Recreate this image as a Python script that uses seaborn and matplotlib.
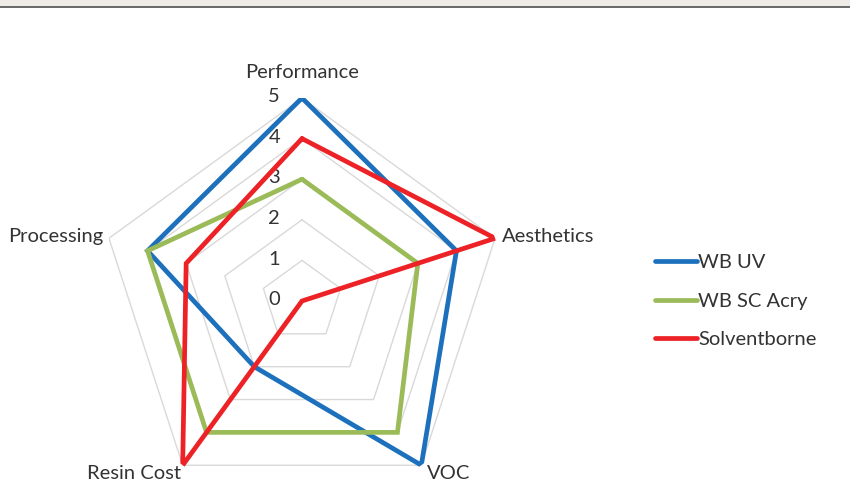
import numpy as np
import pandas as pd
import matplotlib
matplotlib.use("Agg")
import matplotlib.pyplot as plt
from matplotlib.patches import Rectangle
from matplotlib.lines import Line2D
import seaborn as sns

# Scores per criterion (0 = worst, 5 = best)
categories = ["Performance", "Aesthetics", "VOC", "Resin Cost", "Processing"]
wb_uv = [5, 4, 5, 2, 4]
wb_sc_acry = [3, 3, 4, 4, 4]
solventborne = [4, 5, 0, 5, 3]
series_names = ["WB UV", "WB SC Acry", "Solventborne"]
tick_values = [0, 1, 2, 3, 4, 5]

colors = {"WB UV": "#1C70BC", "WB SC Acry": "#9BBB59", "Solventborne": "#EC2227"}
text_color = "#333333"
fs = 14.5

sns.set_theme(style="white")
plt.rcParams["font.family"] = ["Lato", "DejaVu Sans"]

n = len(categories)
angles = np.linspace(0, 2 * np.pi, n, endpoint=False)
closed_angles = np.append(angles, 2 * np.pi)

rows = []
for name, vals in zip(series_names, [wb_uv, wb_sc_acry, solventborne]):
    for a, v in zip(closed_angles, vals + vals[:1]):
        rows.append({"series": name, "theta": a, "score": v})
df = pd.DataFrame(rows)

fig = plt.figure(figsize=(8.5, 4.84), dpi=100)
fig.patch.set_facecolor("white")

# thin header band with dark rule
fig.patches.append(Rectangle((0, 1 - 6 / 484), 1, 6 / 484, transform=fig.transFigure,
                             facecolor="#EFECE8", edgecolor="none", zorder=0))
fig.patches.append(Rectangle((0, 1 - 8 / 484), 1, 2.2 / 484, transform=fig.transFigure,
                             facecolor="#6B6B6B", edgecolor="none", zorder=1))

cx, cy, R = 302, 183, 203
ax = fig.add_axes([(cx - R) / 850, (cy - R) / 484, 2 * R / 850, 2 * R / 484], polar=True)
ax.set_theta_offset(np.pi / 2)
ax.set_theta_direction(-1)
ax.set_ylim(0, 5)
ax.grid(False)
ax.spines["polar"].set_visible(False)
ax.set_xticks([])
ax.set_yticks([])
ax.patch.set_alpha(0)

# pentagonal grid rings
for t in tick_values[1:]:
    ax.plot(closed_angles, [t] * (n + 1), color="#D9D9D9", lw=1.0, zorder=1)

sns.lineplot(data=df, x="theta", y="score", hue="series", hue_order=series_names,
             palette=colors, sort=False, estimator=None, units="series",
             linewidth=3.4, ax=ax, legend=False, zorder=3)
for line in ax.lines[-3:]:
    line.set_solid_joinstyle("miter")

ax.set_xlabel("")
ax.set_ylabel("")

# radial value labels along the Performance spoke
for t in tick_values:
    ax.annotate(str(t), xy=(0, t), xytext=(-20, 1), textcoords="offset points",
                ha="center", va="center", fontsize=fs, color=text_color, zorder=2)

# category labels
label_pos = {
    "Performance": (0, 18, "center", "center"),
    "Aesthetics": (5, 1, "left", "center"),
    "VOC": (4, -6, "left", "center"),
    "Resin Cost": (-1, -6, "right", "center"),
    "Processing": (-4, 1, "right", "center"),
}
for a, cat in zip(angles, categories):
    dx, dy, ha, va = label_pos[cat]
    ax.annotate(cat, xy=(a, 5), xytext=(dx, dy), textcoords="offset points",
                ha=ha, va=va, fontsize=fs, color=text_color, annotation_clip=False)

# legend
handles = [Line2D([0], [0], color=colors[s], lw=3.4) for s in series_names]
fig.legend(handles, series_names, loc="center left", bbox_to_anchor=(637 / 850, 183 / 484),
           frameon=False, fontsize=fs, handlelength=2.1, handletextpad=0.05,
           labelspacing=1.05, labelcolor=text_color)

fig.savefig("out.png", dpi=100, facecolor="white")
